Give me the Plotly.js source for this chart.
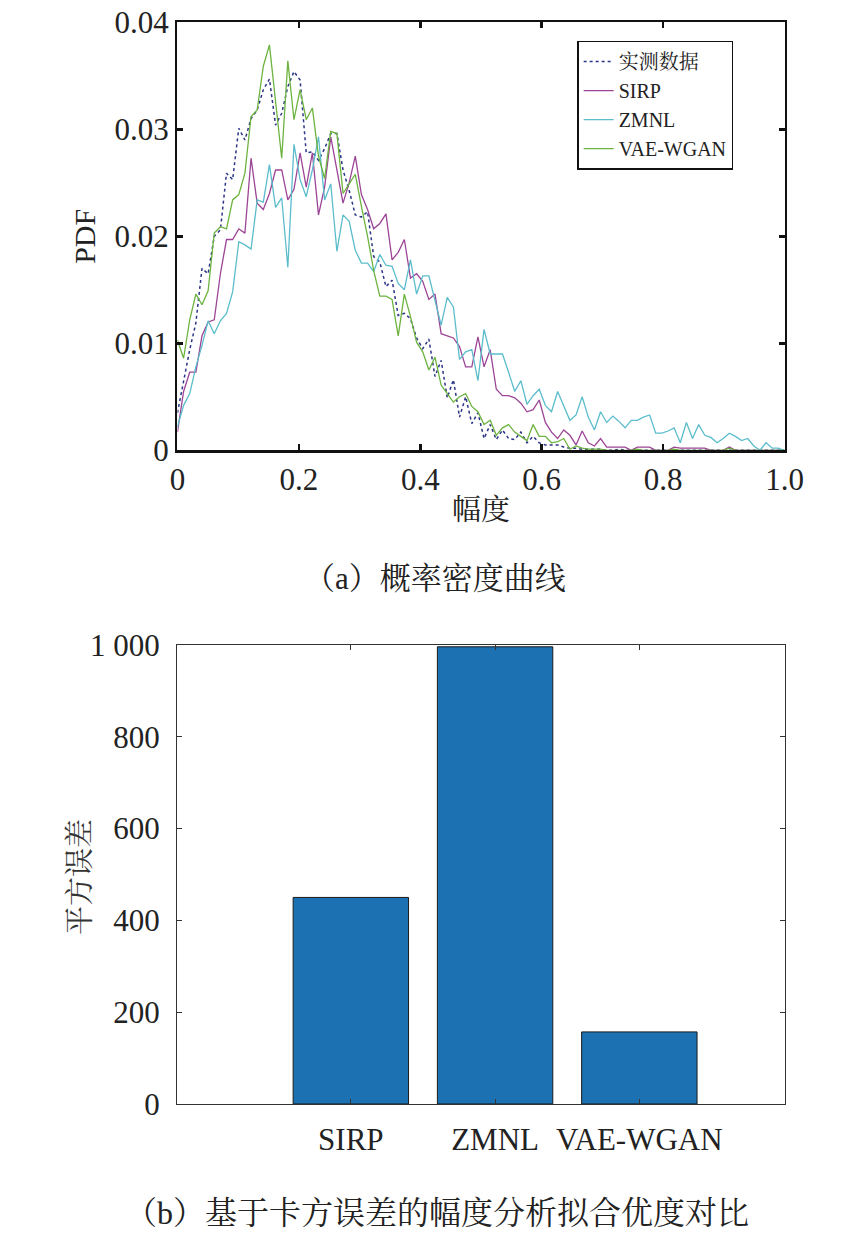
<!DOCTYPE html>
<html>
<head>
<meta charset="utf-8">
<script src="https://cdn.plot.ly/plotly-3.0.1.min.js"></script>
<style>html,body{margin:0;padding:0;background:#fff;}#chart{width:864px;height:1248px;}</style>
</head>
<body>
<div id="chart"></div>
<script>
// ---- data ----
var seriesNames = ["实测数据", "SIRP", "ZMNL", "VAE-WGAN"];
var measured = [0.0035,0.0066,0.0094,0.0119,0.0170,0.0165,0.0200,0.0206,0.0259,0.0253,
0.0301,0.0290,0.0310,0.0318,0.0337,0.0347,0.0304,0.0315,0.0340,0.0354,
0.0346,0.0278,0.0279,0.0271,0.0282,0.0296,0.0296,0.0262,0.0243,0.0220,
0.0218,0.0223,0.0181,0.0176,0.0153,0.0159,0.0126,0.0128,0.0123,0.0105,
0.0095,0.0104,0.0069,0.0084,0.0049,0.0066,0.0031,0.0050,0.0025,0.0035,
0.0011,0.0024,0.0010,0.0019,0.0011,0.0010,0.0017,0.0007,0.0013,0.0007,
0.0005,0.0005,0.0005,0.0003,0.0002,0.0002,0.0001,0.0001,0.0001,0.0001,
0,0,0.0001,0,0,0,0,0,0,0,
0,0,0,0,0,0,0,0,0,0,
0,0,0,0,0,0,0,0,0,0];
var sirp = [0.0017,0.0055,0.0073,0.0073,0.0107,0.0120,0.0122,0.0165,0.0197,0.0197,
0.0207,0.0203,0.0273,0.0231,0.0225,0.0240,0.0262,0.0262,0.0234,0.0244,
0.0278,0.0246,0.0278,0.0220,0.0246,0.0293,0.0262,0.0231,0.0250,0.0275,
0.0239,0.0225,0.0207,0.0212,0.0221,0.0178,0.0185,0.0197,0.0161,0.0165,
0.0158,0.0141,0.0146,0.0109,0.0107,0.0105,0.0097,0.0078,0.0078,0.0106,
0.0078,0.0094,0.0057,0.0051,0.0051,0.0049,0.0044,0.0036,0.0038,0.0047,
0.0026,0.0017,0.0011,0.0019,0.0014,0.0005,0.0018,0.0007,0.0004,0.0011,
0.0003,0.0003,0.0003,0.0003,0,0.0003,0.0003,0.0003,0,0,
0,0.0003,0.0002,0.0002,0.0002,0.0002,0.0002,0,0,0,
0.0003,0,0,0,0,0,0,0,0,0];
var zmnl = [0.0022,0.0042,0.0053,0.0078,0.0098,0.0121,0.0109,0.0121,0.0128,0.0148,
0.0195,0.0192,0.0188,0.0234,0.0232,0.0267,0.0227,0.0236,0.0171,0.0286,
0.0253,0.0237,0.0262,0.0293,0.0234,0.0249,0.0186,0.0220,0.0214,0.0187,
0.0175,0.0175,0.0167,0.0183,0.0173,0.0172,0.0156,0.0150,0.0178,0.0146,
0.0163,0.0163,0.0140,0.0117,0.0143,0.0134,0.0085,0.0092,0.0094,0.0065,
0.0113,0.0090,0.0090,0.0090,0.0073,0.0055,0.0065,0.0043,0.0051,0.0057,
0.0042,0.0036,0.0055,0.0041,0.0028,0.0033,0.0050,0.0031,0.0019,0.0036,
0.0026,0.0032,0.0027,0.0021,0.0028,0.0028,0.0031,0.0033,0.0016,0.0016,
0.0018,0.0021,0.0007,0.0026,0.0011,0.0024,0.0014,0.0012,0.0007,0.0011,
0.0016,0.0013,0.0009,0.0011,0.0004,0,0.0007,0.0002,0.0002,0];
var vaewgan = [0.0103,0.0086,0.0122,0.0146,0.0136,0.0149,0.0203,0.0209,0.0207,0.0234,
0.0239,0.0259,0.0312,0.0318,0.0359,0.0379,0.0326,0.0273,0.0364,0.0309,
0.0337,0.0309,0.0320,0.0275,0.0254,0.0298,0.0296,0.0240,0.0249,0.0258,
0.0228,0.0200,0.0168,0.0144,0.0144,0.0141,0.0107,0.0146,0.0125,0.0101,
0.0092,0.0075,0.0087,0.0061,0.0053,0.0045,0.0050,0.0053,0.0041,0.0036,
0.0024,0.0028,0.0014,0.0021,0.0024,0.0017,0.0013,0.0009,0.0024,0.0013,
0.0013,0.0007,0.0008,0.0011,0.0001,0.0004,0.0002,0.0001,0.0001,0.0001,
0,0,0,0,0,0.0001,0,0,0,0,
0,0.0001,0,0,0,0,0,0,0,0,
0.0002,0,0,0,0,0,0,0,0,0];
var amplitude = measured.map(function(_, k){ return k / 99; });

var pdfTickVals = [0, 0.01, 0.02, 0.03, 0.04];
var pdfTickText = ["0", "0.01", "0.02", "0.03", "0.04"];
var ampTickVals = [0, 0.2, 0.4, 0.6, 0.8, 1.0];
var ampTickText = ["0", "0.2", "0.4", "0.6", "0.8", "1.0"];

var barCategories = ["SIRP", "ZMNL", "VAE-WGAN"];
var barPositions = [1, 2, 3];
var chiSquareError = [450, 996, 157];
var errTickVals = [0, 200, 400, 600, 800, 1000];
var errTickText = ["0", "200", "400", "600", "800", "1 000"];

// ---- styles ----
var FONT = "Liberation Serif, Times New Roman, Noto Serif CJK SC, Noto Sans CJK SC, serif";
var TXT = "#222";
var colors = ["#2b3585", "#9c4596", "#5bbdcc", "#6cb33f"];
var seriesY = [measured, sirp, zmnl, vaewgan];

var traces = seriesY.map(function(y, i){
  return {
    type: "scatter", mode: "lines", x: amplitude, y: y, name: seriesNames[i],
    xaxis: "x", yaxis: "y",
    line: {color: colors[i], width: i === 0 ? 1.5 : 1.3, dash: i === 0 ? "dot" : "solid"}
  };
});
traces.push({
  type: "bar", x: barPositions, y: chiSquareError, xaxis: "x2", yaxis: "y2",
  width: 0.8, showlegend: false,
  marker: {color: "#1c71b2", line: {color: "#1a1a1a", width: 1}}
});

var layout = {
  width: 864, height: 1248,
  margin: {l: 0, r: 0, t: 0, b: 0},
  paper_bgcolor: "#fff", plot_bgcolor: "#fff",
  font: {family: FONT, size: 30, color: TXT},
  showlegend: true,
  legend: {
    x: 0.668, y: 0.9675, xanchor: "left", yanchor: "top",
    bgcolor: "#fff", bordercolor: "#111", borderwidth: 1.5,
    font: {family: FONT, size: 20, color: TXT},
    tracegroupgap: 0, itemwidth: 30
  },
  xaxis: {
    domain: [0.2054, 0.9080], anchor: "y", range: [0, 1],
    tickmode: "array", tickvals: ampTickVals, ticktext: ampTickText,
    ticks: "inside", ticklen: 6, tickwidth: 2.5, tickcolor: "#111",
    showline: true, linecolor: "#111", linewidth: 2.5, mirror: "ticks",
    showgrid: false, zeroline: false,
    tickfont: {size: 31, color: TXT},
    title: {text: "幅度", font: {size: 29, color: TXT}, standoff: 4}
  },
  yaxis: {
    domain: [0.6392, 0.9821], anchor: "x", range: [0, 0.04],
    tickmode: "array", tickvals: pdfTickVals, ticktext: pdfTickText,
    ticks: "inside", ticklen: 6, tickwidth: 2.5, tickcolor: "#111",
    showline: true, linecolor: "#111", linewidth: 2.5, mirror: "ticks",
    showgrid: false, zeroline: false,
    tickfont: {size: 31, color: TXT},
    title: {text: "PDF", font: {size: 30, color: TXT}, standoff: 10}
  },
  xaxis2: {
    domain: [0.2049, 0.9086], anchor: "y2", range: [-0.205, 4.01],
    tickmode: "array", tickvals: barPositions, ticktext: barCategories,
    ticks: "inside", ticklen: 5, tickwidth: 1, tickcolor: "#333",
    showline: true, linecolor: "#333", linewidth: 1.2, mirror: "ticks",
    showgrid: false, zeroline: false,
    tickfont: {size: 31, color: TXT}, ticklabelstandoff: 8
  },
  yaxis2: {
    domain: [0.1154, 0.4832], anchor: "x2", range: [0, 1000],
    tickmode: "array", tickvals: errTickVals, ticktext: errTickText,
    ticks: "inside", ticklen: 5, tickwidth: 1, tickcolor: "#333",
    showline: true, linecolor: "#333", linewidth: 1.2, mirror: "ticks",
    showgrid: false, zeroline: false,
    tickfont: {size: 31, color: TXT}, ticklabelstandoff: 10
  },
  annotations: [
    {text: "平方误差", xref: "paper", yref: "paper", x: 80/864, y: 1 - 877/1248,
     xanchor: "center", yanchor: "middle", textangle: -90, showarrow: false,
     font: {size: 29, color: "#333"}},
    {text: "（a）概率密度曲线", xref: "paper", yref: "paper", x: 0.504, y: 1 - 578/1248,
     xanchor: "center", yanchor: "middle", showarrow: false, font: {size: 31, color: TXT}},
    {text: "（b）基于卡方误差的幅度分析拟合优度对比", xref: "paper", yref: "paper", x: 0.506, y: 1 - 1213/1248,
     xanchor: "center", yanchor: "middle", showarrow: false, font: {size: 32, color: TXT}}
  ]
};

Plotly.newPlot("chart", traces, layout, {displayModeBar: false, staticPlot: true});
</script>
</body>
</html>
